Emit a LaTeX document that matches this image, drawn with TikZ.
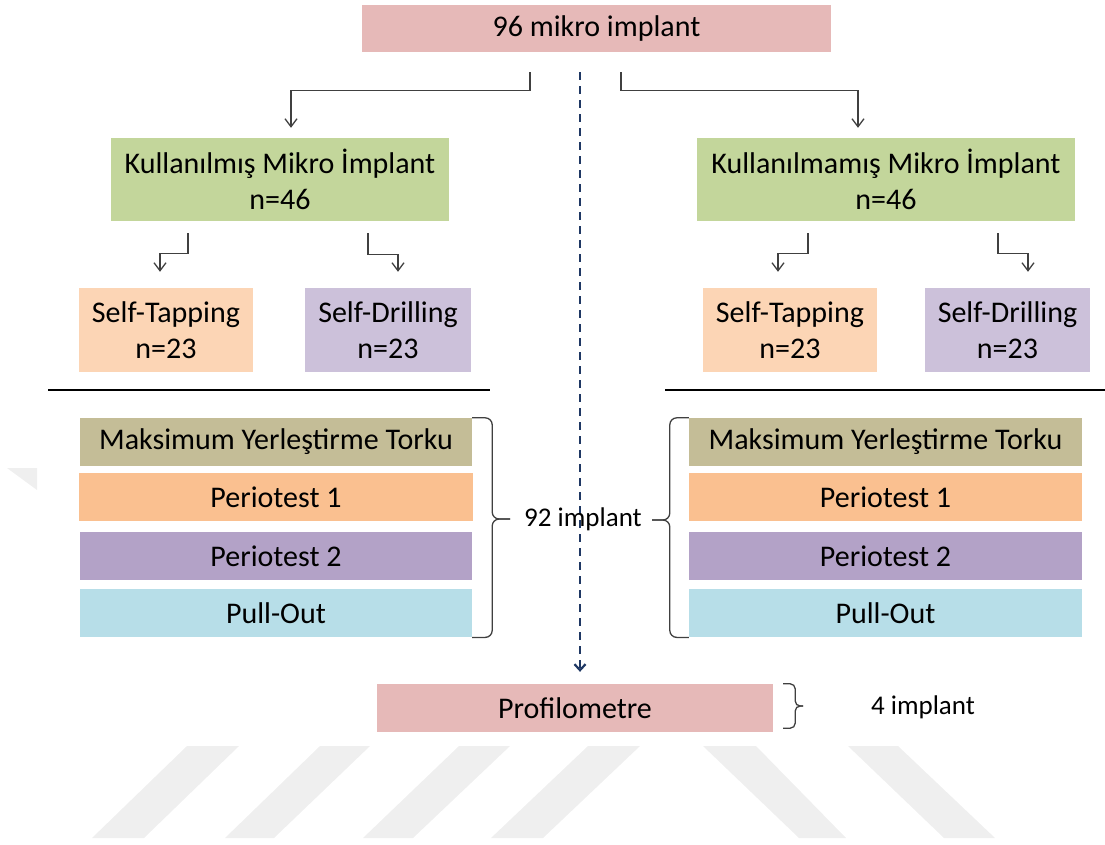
\documentclass[tikz,border=0pt]{standalone}
\usepackage{fontspec}
\setmainfont{Carlito}
\usetikzlibrary{positioning,arrows.meta}

\definecolor{pinkbox}{HTML}{E6B9B8}
\definecolor{greenbox}{HTML}{C3D69B}
\definecolor{peachbox}{HTML}{FCD5B5}
\definecolor{lilacbox}{HTML}{CCC1DA}
\definecolor{khakibox}{HTML}{C4BD97}
\definecolor{orangebox}{HTML}{FAC090}
\definecolor{purplebox}{HTML}{B3A2C7}
\definecolor{bluebox}{HTML}{B7DEE8}
\definecolor{navyline}{HTML}{1F3864}
\definecolor{wmgray}{HTML}{EFEFEF}

\begin{document}
\begin{tikzpicture}[x=1pt,y=-1pt,
    box/.style={rectangle,inner sep=0pt,minimum height=48,align=center,font=\fontsize{30}{36}\selectfont},
    arr/.style={->,>={Straight Barb[length=8pt,width=12pt]},draw=black!75,line width=1.3pt},
    brk/.style={draw=black!75,line width=1.3pt,rounded corners=7pt},
    lbl/.style={font=\fontsize{27}{32}\selectfont}]
\useasboundingbox (0,0) rectangle (1105,844);

% watermark
\fill[wmgray] (7,468) -- (37,468) -- (37,490) -- cycle;
\fill[wmgray] (187,746) -- (239,746) -- (144,838) -- (92,838) -- cycle;
\fill[wmgray] (320,746) -- (370,746) -- (274,838) -- (225,838) -- cycle;
\fill[wmgray] (459,746) -- (510,746) -- (413,838) -- (363,838) -- cycle;
\fill[wmgray] (588,746) -- (640,746) -- (543,838) -- (491,838) -- cycle;
\fill[wmgray] (703,746) -- (756,746) -- (846,838) -- (799,838) -- cycle;
\fill[wmgray] (848,746) -- (898,746) -- (995,838) -- (944,838) -- cycle;

% boxes
\node[box,fill=pinkbox,minimum width=469,minimum height=47] (top) at (596.5,28.5) {96 mikro implant};
\node[box,fill=greenbox,minimum width=338,minimum height=83] (klm) at (280,179.5) {Kullanılmış Mikro İmplant\\n=46};
\node[box,fill=greenbox,minimum width=378,minimum height=83] (krm) at (886,179.5) {Kullanılmamış Mikro İmplant\\n=46};
\node[box,fill=peachbox,minimum width=174,minimum height=84] (lst) at (166,330) {Self-Tapping\\n=23};
\node[box,fill=lilacbox,minimum width=166,minimum height=84] (lsd) at (388,330) {Self-Drilling\\n=23};
\node[box,fill=peachbox,minimum width=174,minimum height=84] (rst) at (790,330) {Self-Tapping\\n=23};
\node[box,fill=lilacbox,minimum width=165,minimum height=84] (rsd) at (1007.5,330) {Self-Drilling\\n=23};

\draw[line width=1.6pt] (48,390) -- (490,390);
\draw[line width=1.6pt] (665,390) -- (1105,390);

% test stacks
\node[box,fill=khakibox,minimum width=392] (lmax) at (276,442) {Maksimum Yerleştirme Torku};
\node[box,fill=orangebox,minimum width=394] (lp1) [below=7pt of lmax] {Periotest 1};
\node[box,fill=purplebox,minimum width=392] (lp2) [below=10pt of lp1] {Periotest 2};
\node[box,fill=bluebox,minimum width=392] (lpo) [below=9pt of lp2] {Pull-Out};

\node[box,fill=khakibox,minimum width=393] (rmax) at (885.5,442) {Maksimum Yerleştirme Torku};
\node[box,fill=orangebox,minimum width=393] (rp1) [below=7pt of rmax] {Periotest 1};
\node[box,fill=purplebox,minimum width=393] (rp2) [below=10pt of rp1] {Periotest 2};
\node[box,fill=bluebox,minimum width=393] (rpo) [below=9pt of rp2] {Pull-Out};

\node[box,fill=pinkbox,minimum width=396] (prof) at (575,708) {Profilometre};

% arrows
\draw[arr,shorten <=20pt,shorten >=10pt] ([xshift=-66.5]top.south) -- ++(0,38) -| ([xshift=11]klm.north);
\draw[arr,shorten <=20pt,shorten >=10pt] ([xshift=24.5]top.south) -- ++(0,38) -| ([xshift=-28]krm.north);
\draw[arr,shorten <=12pt,shorten >=16pt] ([xshift=-92]klm.south) -- ++(0,32) -| ([xshift=-6]lst.north);
\draw[arr,shorten <=12pt,shorten >=16pt] ([xshift=88]klm.south) -- ++(0,33) -| ([xshift=10]lsd.north);
\draw[arr,shorten <=12pt,shorten >=16pt] ([xshift=-78]krm.south) -- ++(0,32) -| ([xshift=-12]rst.north);
\draw[arr,shorten <=12pt,shorten >=16pt] ([xshift=112]krm.south) -- ++(0,32) -| ([xshift=20.5]rsd.north);
\draw[arr,draw=navyline,line width=2.2pt,dash pattern=on 8pt off 6pt,>={Straight Barb[length=6pt,width=11pt]},shorten <=20pt,shorten >=12pt]
    ([xshift=-16.5]top.south) -- ([xshift=5]prof.north);

% braces
\coordinate (ltip) at (510,519);
\coordinate (rtip) at (652,520);
\coordinate (ptip) at (803,706);
\draw[brk] (lmax.north east) -- ++(20,0) |- (ltip);
\draw[brk] (lpo.south east) -- ++(20,0) |- (ltip);
\draw[brk] (rmax.north west) -- ++(-19,0) |- (rtip);
\draw[brk] (rpo.south west) -- ++(-19,0) |- (rtip);
\draw[brk,rounded corners=5pt] ([xshift=10]prof.north east) -- ++(12,0) |- (ptip);
\draw[brk,rounded corners=5pt] ([xshift=10,yshift=4]prof.south east) -- ++(12,0) |- (ptip);
\node[lbl] (n92) at (583,519) {92 implant};
\node[lbl] (n4) at (923,707) {4 implant};
\end{tikzpicture}
\end{document}
